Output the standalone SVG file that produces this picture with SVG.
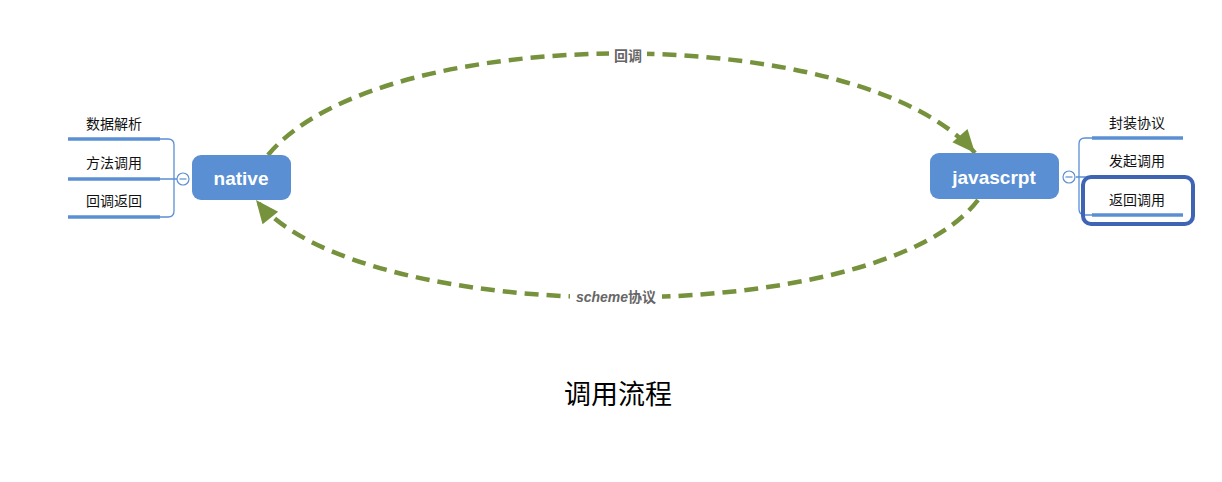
<svg xmlns="http://www.w3.org/2000/svg" width="1222" height="482" viewBox="0 0 1222 482">
<style>
.node{fill:#5a8fd3;}
.nlabel{font-family:"Liberation Sans","Noto Sans CJK SC",sans-serif;font-size:19px;font-weight:bold;fill:#ffffff;text-anchor:middle;}
.leaf{font-family:"Liberation Sans","Noto Sans CJK SC",sans-serif;font-size:14px;fill:#111111;text-anchor:middle;}
.bar{stroke:#5a8fd3;stroke-width:3.5;fill:none;}
.brace{stroke:#5a8fd3;stroke-width:1.3;fill:none;}
.arc{stroke:#76923c;stroke-width:4.5;fill:none;stroke-dasharray:14 8;}
.alabel{font-family:"Liberation Sans","Noto Sans CJK SC",sans-serif;font-size:14px;font-weight:bold;fill:#666666;text-anchor:middle;}
.toggle{fill:#ffffff;stroke:#5a8fd3;stroke-width:1.2;}
</style>
<defs>
<marker id="ah" markerUnits="userSpaceOnUse" markerWidth="28" markerHeight="28" viewBox="0 0 28 28" refX="26" refY="14" orient="auto">
<path d="M3,4 L26,14 L3,24 Z" fill="#76923c"/>
</marker>
</defs>
<rect width="1222" height="482" fill="#ffffff"/>
<g id="connectors">
<path class="arc" d="M268,155 C380,20 860,20 975,153" marker-end="url(#ah)"/>
<path class="arc" d="M978,200 C880,330 360,330 256,200" marker-end="url(#ah)"/>
<rect x="609" y="47" width="38" height="18" fill="#ffffff"/>
<text class="alabel" x="628" y="61">回调</text>
<rect x="570" y="288" width="92" height="18" fill="#ffffff"/>
<text class="alabel" x="616" y="302"><tspan font-style="italic">scheme</tspan>协议</text>
<path class="brace" d="M160,139 H168 Q174,139 174,145 V211 Q174,217 168,217 H160 M160,179 H177"/>
<path class="brace" d="M1092,138 H1085 Q1079,138 1079,144 V209 Q1079,215 1085,215 H1092 M1076,177 H1092"/>
</g>
<g id="native">
<rect class="node" x="192" y="155" width="99" height="45" rx="9"/>
<text class="nlabel" x="241" y="185">native</text>
<circle class="toggle" cx="183" cy="179" r="6"/>
<line x1="179.5" y1="179" x2="186.5" y2="179" stroke="#5a8fd3" stroke-width="1.2"/>
</g>
<g id="leaf-shujujiexi">
<line class="bar" x1="68" y1="139" x2="160" y2="139"/>
<text class="leaf" x="114" y="129">数据解析</text>
</g>
<g id="leaf-fangfadiaoyong">
<line class="bar" x1="68" y1="179" x2="160" y2="179"/>
<text class="leaf" x="114" y="168">方法调用</text>
</g>
<g id="leaf-huidiaofanhui">
<line class="bar" x1="68" y1="217" x2="160" y2="217"/>
<text class="leaf" x="114" y="206">回调返回</text>
</g>
<g id="javascrpt">
<rect class="node" x="930" y="153" width="129" height="46" rx="9"/>
<text class="nlabel" x="994" y="184">javascrpt</text>
<circle class="toggle" cx="1069" cy="177" r="6"/>
<line x1="1065.5" y1="177" x2="1072.5" y2="177" stroke="#5a8fd3" stroke-width="1.2"/>
</g>
<g id="leaf-fengzhuangxieyi">
<line class="bar" x1="1092" y1="138" x2="1183" y2="138"/>
<text class="leaf" x="1137" y="128">封装协议</text>
</g>
<g id="leaf-faqidiaoyong">
<line class="bar" x1="1092" y1="177" x2="1183" y2="177" stroke="#3f64b4"/>
<text class="leaf" x="1137" y="166">发起调用</text>
</g>
<g id="leaf-fanhuidiaoyong">
<line class="bar" x1="1092" y1="215" x2="1183" y2="215"/>
<rect x="1083" y="177" width="110" height="47" rx="8" fill="none" stroke="#3f64b4" stroke-width="4"/>
<text class="leaf" x="1137" y="205">返回调用</text>
</g>
<g id="title">
<text x="618" y="404" font-family="'Liberation Sans','Noto Sans CJK SC',sans-serif" font-size="27" fill="#000000" text-anchor="middle">调用流程</text>
</g>
</svg>
